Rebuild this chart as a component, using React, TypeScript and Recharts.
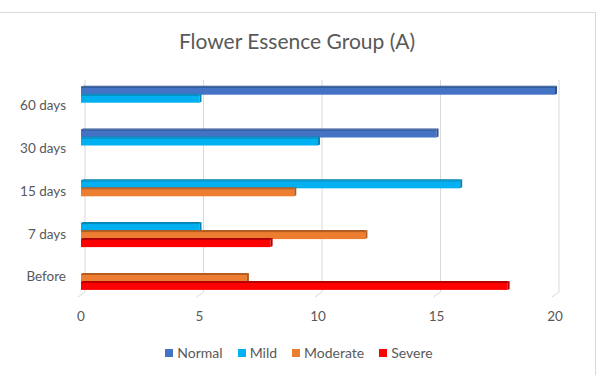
import React from "react";
import { BarChart, Bar, XAxis, YAxis, CartesianGrid } from "recharts";

// categories listed top to bottom as shown
const categories = ["60 days", "30 days", "15 days", "7 days", "Before"];
const normal = [20, 15, 0, 0, 0];
const mild = [5, 10, 16, 5, 0];
const moderate = [0, 0, 9, 12, 7];
const severe = [0, 0, 0, 8, 18];
const xTicks = [0, 5, 10, 15, 20];

const seriesInfo = [
  { key: "Normal", color: "#4472C4", dark: "#2F528F" },
  { key: "Mild", color: "#00B0F0", dark: "#0085B6" },
  { key: "Moderate", color: "#ED7D31", dark: "#AE5A21" },
  { key: "Severe", color: "#FF0000", dark: "#B00000" },
];

const data = categories.map((label, i) => ({
  label,
  Normal: normal[i],
  Mild: mild[i],
  Moderate: moderate[i],
  Severe: severe[i],
}));

const TEXT = "#595959";
const FONT = "Lato, 'Open Sans', sans-serif";

// bar with a small 3D top and end face
const makeShape = (color: string, dark: string) => (props: any) => {
  const { x, y, width, height } = props;
  if (!width || width <= 0) return <g />;
  const d = 2;
  return (
    <g>
      <polygon
        points={`${x},${y} ${x + d},${y - 1} ${x + width + d},${y - 1} ${x + width},${y}`}
        fill={dark}
      />
      <rect x={x} y={y} width={width} height={height} fill={color} />
      <rect x={x} y={y} width={width} height={1} fill={dark} />
      <polygon
        points={`${x + width},${y} ${x + width + d},${y - 1} ${x + width + d},${y + height - 1} ${x + width},${y + height}`}
        fill={dark}
      />
    </g>
  );
};

const GridLine = (props: any) => {
  const { x1, y1, y2 } = props;
  return (
    <g key={props.key ?? `g-${x1}`}>
      <line x1={x1 + 4} y1={y1 - 2} x2={x1 + 4} y2={y2 - 4} stroke="#d9d9d9" strokeWidth={1} />
      <line x1={x1 + 4} y1={y2 - 4} x2={x1 - 3} y2={y2 + 1} stroke="#d9d9d9" strokeWidth={1} />
    </g>
  );
};

export default function App() {
  return (
    <div
      style={{
        position: "absolute",
        left: 0,
        top: 0,
        width: 600,
        height: 375,
        background: "#fff",
        overflow: "hidden",
        fontFamily: FONT,
      }}
    >
      <div
        style={{
          position: "absolute",
          left: -2,
          top: 12,
          width: 596,
          height: 380,
          border: "1px solid #d9d9d9",
        }}
      />
      <div
        style={{
          position: "absolute",
          left: 0,
          width: 594,
          top: 28,
          textAlign: "center",
          fontSize: 21,
          color: TEXT,
        }}
      >
        Flower Essence Group (A)
      </div>
      <div style={{ position: "absolute", left: 0, top: 0 }}>
        <BarChart
          width={600}
          height={375}
          layout="vertical"
          data={data}
          margin={{ top: 82, right: 45, left: 0, bottom: 49 }}
          barCategoryGap="11%"
          barGap={0}
        >
          <CartesianGrid horizontal={false} vertical={(p: any) => <GridLine {...p} />} />
          <XAxis
            type="number"
            domain={[0, 20]}
            ticks={xTicks}
            axisLine={false}
            tickLine={false}
            tickSize={0}
            tickMargin={15}
            height={30}
            tick={{ fill: TEXT, fontSize: 13.5, fontFamily: FONT }}
          />
          <YAxis
            type="category"
            dataKey="label"
            width={81}
            axisLine={false}
            tickLine={false}
            tickSize={0}
            tickMargin={15}
            tick={{ fill: TEXT, fontSize: 13.5, fontFamily: FONT, dy: 2 }}
          />
          {seriesInfo.map((s) => (
            <Bar
              key={s.key}
              dataKey={s.key}
              fill={s.color}
              isAnimationActive={false}
              shape={makeShape(s.color, s.dark)}
            />
          ))}
        </BarChart>
      </div>
      <div
        style={{
          position: "absolute",
          left: 0,
          width: 598,
          top: 344,
          display: "flex",
          justifyContent: "center",
          gap: 15,
          fontSize: 14,
          color: TEXT,
        }}
      >
        {seriesInfo.map((s) => (
          <div key={s.key} style={{ display: "flex", alignItems: "center" }}>
            <span
              style={{
                display: "inline-block",
                width: 8,
                height: 8,
                background: s.color,
                marginRight: 4,
              }}
            />
            <span>{s.key}</span>
          </div>
        ))}
      </div>
    </div>
  );
}
